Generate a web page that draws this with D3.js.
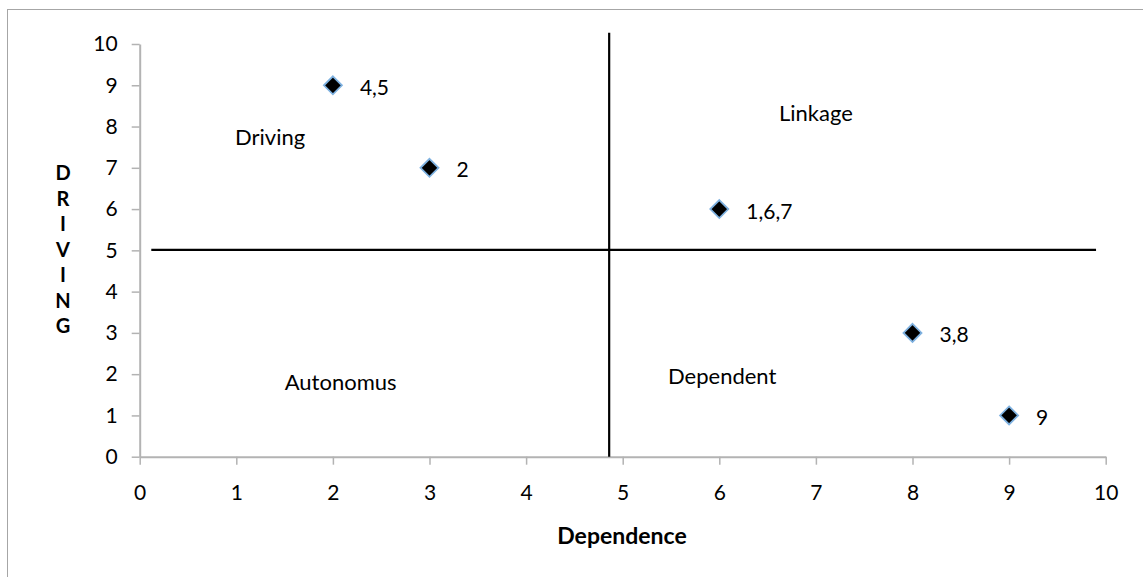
<!DOCTYPE html>
<html>
<head>
<meta charset="utf-8">
<script src="https://cdn.jsdelivr.net/npm/d3@7"></script>
<style>
  html, body { margin: 0; padding: 0; background: #fff; }
  svg { display: block; font-family: Lato, "Open Sans", sans-serif; }
</style>
</head>
<body>
<svg id="chart" width="1143" height="577"></svg>
<script>
// Dependence / driving power of the factors
const dependence = [2, 3, 6, 8, 9];
const driving    = [9, 7, 6, 3, 1];
const pointLabels = ["4,5", "2", "1,6,7", "3,8", "9"];

const xTicks = [0, 1, 2, 3, 4, 5, 6, 7, 8, 9, 10];
const yTicks = [0, 1, 2, 3, 4, 5, 6, 7, 8, 9, 10];

// Quadrant dividers (data units)
const hDivider = { y: 5.01, x0: 0.12, x1: 9.9 };
const vDivider = { x: 4.86, y0: 0, y1: 10.27 };

// Quadrant names and where they sit
const quadrantNames = ["Driving", "Linkage", "Autonomus", "Dependent"];
const quadrantX = [1.35, 7.0, 2.08, 6.03];
const quadrantY = [7.77, 8.33, 1.83, 1.96];

const yTitle = "DRIVING".split("");
const xTitle = "Dependence";

const svg = d3.select("#chart");
const axisColor = "#b3b3b3";
const font = "Lato, 'Open Sans', sans-serif";

// Outer chart frame
svg.append("rect")
  .attr("x", 7.5).attr("y", 9.5)
  .attr("width", 1200).attr("height", 700)
  .attr("fill", "none").attr("stroke", "#a6a6a6").attr("stroke-width", 1);

const x = d3.scaleLinear().domain([0, 10]).range([139.7, 1105.7]);
const y = d3.scaleLinear().domain([0, 10]).range([456.7, 44]);

// Axes
const xAxis = svg.append("g")
  .attr("transform", `translate(0,${y(0)})`)
  .call(d3.axisBottom(x).tickValues(xTicks).tickSize(8).tickSizeOuter(0).tickPadding(19));
const yAxis = svg.append("g")
  .attr("transform", `translate(${x(0)},0)`)
  .call(d3.axisLeft(y).tickValues(yTicks).tickSize(8).tickSizeOuter(0).tickPadding(14));

[xAxis, yAxis].forEach(g => {
  g.select(".domain").attr("stroke", axisColor).attr("stroke-width", 2);
  g.selectAll(".tick line").attr("stroke", axisColor).attr("stroke-width", 1.5);
  g.selectAll(".tick text")
    .attr("fill", "#000")
    .style("font-size", "21px")
    .style("font-family", font);
});
xAxis.selectAll(".tick text").attr("dy", "0.8em");

// Quadrant divider lines
svg.append("line")
  .attr("x1", x(hDivider.x0)).attr("x2", x(hDivider.x1))
  .attr("y1", y(hDivider.y)).attr("y2", y(hDivider.y))
  .attr("stroke", "#000").attr("stroke-width", 2.2);
svg.append("line")
  .attr("x1", x(vDivider.x)).attr("x2", x(vDivider.x))
  .attr("y1", y(vDivider.y0)).attr("y2", y(vDivider.y1))
  .attr("stroke", "#000").attr("stroke-width", 2.2);

// Quadrant names
svg.append("g").selectAll("text")
  .data(quadrantNames)
  .join("text")
  .attr("x", (d, i) => x(quadrantX[i]))
  .attr("y", (d, i) => y(quadrantY[i]))
  .attr("text-anchor", "middle")
  .attr("dominant-baseline", "central")
  .style("font-size", "22px")
  .text(d => d);

// Data points
const pts = dependence.map((d, i) => ({ dx: d, dy: driving[i], label: pointLabels[i] }));
const r = 9;
const diamond = `M0,${-r}L${r},0L0,${r}L${-r},0Z`;

const g = svg.append("g");
g.selectAll("path")
  .data(pts)
  .join("path")
  .attr("transform", d => `translate(${x(d.dx)},${y(d.dy)})`)
  .attr("d", diamond)
  .attr("fill", "#000")
  .attr("stroke", "#7eb1e0")
  .attr("stroke-width", 1.8);

g.selectAll("text")
  .data(pts)
  .join("text")
  .attr("x", d => x(d.dx) + 27)
  .attr("y", d => y(d.dy) + 1)
  .attr("dominant-baseline", "central")
  .style("font-size", "21px")
  .text(d => d.label);

// Axis titles
svg.append("text")
  .attr("x", 622).attr("y", 535)
  .attr("text-anchor", "middle")
  .attr("dominant-baseline", "central")
  .style("font-size", "23px").style("font-weight", "bold")
  .text(xTitle);

svg.append("g").selectAll("text")
  .data(yTitle)
  .join("text")
  .attr("x", 63)
  .attr("y", (d, i) => 172 + i * 25.5)
  .attr("text-anchor", "middle")
  .attr("dominant-baseline", "central")
  .style("font-size", "20px").style("font-weight", "bold")
  .text(d => d);
</script>
</body>
</html>
